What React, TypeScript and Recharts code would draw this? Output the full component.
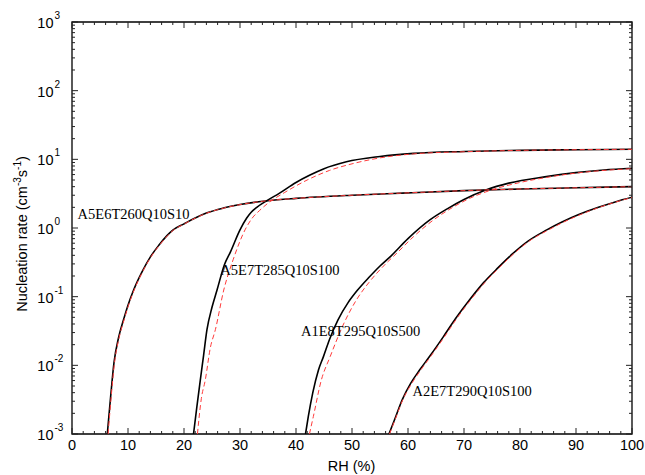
import React from 'react';
import { LineChart, Line, XAxis, YAxis, ReferenceArea, ReferenceDot } from 'recharts';

// curves: [RH %, nucleation rate]
const a5e6t260Solid: [number, number][] = [
  [6.3, 0.001], [6.9, 0.0035], [7.5, 0.011], [8.3, 0.025], [9.2, 0.046], [10.0, 0.075],
  [11.0, 0.125], [12.5, 0.23], [14.0, 0.38], [15.5, 0.56], [17.0, 0.78], [18.0, 0.93],
  [20.0, 1.15], [22.0, 1.4], [24.0, 1.65], [27.0, 1.95], [30.0, 2.2], [35.0, 2.5],
  [40.0, 2.7], [50.0, 3.0], [60.0, 3.25], [70.0, 3.5], [80.0, 3.7], [90.0, 3.85], [100, 4.0],
];
const a5e6t260Dashed: [number, number][] = [
  [6.45, 0.001], [7.0, 0.0035], [7.6, 0.011], [8.4, 0.025], [9.3, 0.046], [10.1, 0.075],
  [11.1, 0.125], [12.6, 0.23], [14.1, 0.38], [15.6, 0.56], [17.1, 0.78], [18.1, 0.93],
  [20.0, 1.14], [22.0, 1.39], [24.0, 1.64], [27.0, 1.94], [30.0, 2.19], [35.0, 2.5],
  [40.0, 2.7], [50.0, 3.0], [60.0, 3.25], [70.0, 3.5], [80.0, 3.7], [90.0, 3.85], [100, 4.0],
];
const a5e7t285Solid: [number, number][] = [
  [21.7, 0.001], [22.3, 0.0025], [22.9, 0.006], [23.5, 0.014], [24.1, 0.033], [25.0, 0.07],
  [25.9, 0.125], [27.2, 0.29], [28.3, 0.45], [30.0, 0.94], [31.2, 1.4], [32.0, 1.7],
  [33.0, 2.0], [34.8, 2.5], [37.0, 3.2], [40.0, 4.6], [42.5, 5.9], [45.0, 7.3], [49.0, 9.2],
  [55.0, 11.0], [61.0, 12.2], [70.0, 13.0], [80.0, 13.5], [90.0, 13.8], [100, 14.0],
];
const a5e7t285Dashed: [number, number][] = [
  [22.4, 0.001], [23.1, 0.0033], [23.8, 0.0061], [24.7, 0.018], [25.6, 0.033], [27.1, 0.125],
  [28.8, 0.35], [30.9, 0.94], [32.2, 1.4], [33.5, 1.8], [35.0, 2.3], [38.0, 3.3], [42.0, 5.0],
  [46.0, 6.9], [50.0, 8.6], [55.0, 10.5], [61.0, 12.0], [70.0, 12.9], [80.0, 13.5], [90.0, 13.8], [100, 14.0],
];
const a1e8t295Solid: [number, number][] = [
  [41.7, 0.001], [42.2, 0.0018], [43.0, 0.004], [44.0, 0.0085], [44.9, 0.0134], [46.0, 0.024],
  [47.5, 0.046], [49.3, 0.082], [51.0, 0.125], [53.0, 0.19], [55.0, 0.28], [56.8, 0.38],
  [60.0, 0.7], [63.9, 1.31], [67.0, 1.9], [70.0, 2.6], [74.0, 3.6], [78.0, 4.5],
  [84.7, 5.6], [90.0, 6.4], [95.0, 7.0], [100, 7.4],
];
const a1e8t295Dashed: [number, number][] = [
  [42.4, 0.001], [43.1, 0.0018], [44.5, 0.006], [46.1, 0.0134], [48.5, 0.04], [50.8, 0.09],
  [53.0, 0.16], [56.0, 0.3], [58.0, 0.43], [61.0, 0.75], [64.5, 1.3], [68.0, 2.0],
  [71.0, 2.7], [75.0, 3.6], [80.0, 4.6], [85.0, 5.5], [90.0, 6.3], [95.0, 6.9], [100, 7.3],
];
const a2e7t290Solid: [number, number][] = [
  [56.6, 0.001], [57.7, 0.0017], [59.0, 0.0032], [60.5, 0.0055], [62.1, 0.0086], [64.0, 0.014],
  [66.3, 0.026], [68.5, 0.048], [71.0, 0.09], [73.5, 0.16], [76.0, 0.26], [78.8, 0.43],
  [81.5, 0.65], [84.7, 0.93], [87.5, 1.22], [90.6, 1.58], [94.0, 2.0], [97.0, 2.4], [100, 2.8],
];
const a2e7t290Dashed: [number, number][] = [
  [56.7, 0.001], [57.8, 0.0017], [59.1, 0.0032], [60.7, 0.0055], [62.3, 0.0086], [64.2, 0.014],
  [66.5, 0.026], [68.7, 0.048], [71.2, 0.09], [73.7, 0.16], [76.2, 0.26], [79.0, 0.43],
  [81.7, 0.65], [84.9, 0.92], [87.7, 1.21], [90.8, 1.57], [94.1, 1.99], [97.1, 2.39], [100, 2.78],
];

const curveNames = ['A5E6T260Q10S10', 'A5E7T285Q10S100', 'A1E8T295Q10S500', 'A2E7T290Q10S100'];
// label anchor (start of text, baseline) in data units
const labelX = [1.0, 26.5, 40.9, 60.8];
const labelY = [1.35, 0.21, 0.0268, 0.00362];

const xTicks = Array.from({ length: 51 }, (_, i) => i * 2);
const decades = [-3, -2, -1, 0, 1, 2];
const yTicks: number[] = [];
decades.forEach(d => {
  for (let m = 1; m < 10; m++) yTicks.push(Number((m * Math.pow(10, d)).toPrecision(3)));
});
yTicks.push(1000);

const PLOT = { left: 72, right: 632, top: 22, bottom: 434 };
const SANS = '"Liberation Sans", Arial, Helvetica, sans-serif';
const SERIF = '"Liberation Serif", "Times New Roman", serif';

const toPts = (pairs: [number, number][]) => pairs.map(([x, y]) => ({ x, y }));

function XTick(props: any) {
  const { x, payload } = props;
  const v = payload.value;
  const major = v % 10 === 0;
  const len = major ? 6 : 3;
  return (
    <g>
      <line x1={x} x2={x} y1={PLOT.bottom} y2={PLOT.bottom - len} stroke="#222" strokeWidth={1} />
      <line x1={x} x2={x} y1={PLOT.top} y2={PLOT.top + len} stroke="#222" strokeWidth={1} />
      {major && (
        <text x={x} y={449.5} textAnchor="middle" fontFamily={SANS} fontSize={14.5} fill="#000">{v}</text>
      )}
    </g>
  );
}

function YTick(props: any) {
  const { y, payload } = props;
  const lg = Math.log10(payload.value);
  const major = Math.abs(lg - Math.round(lg)) < 1e-6;
  const len = major ? 6 : 3;
  return (
    <g>
      <line x1={PLOT.left} x2={PLOT.left + len} y1={y} y2={y} stroke="#222" strokeWidth={1} />
      <line x1={PLOT.right} x2={PLOT.right - len} y1={y} y2={y} stroke="#222" strokeWidth={1} />
      {major && (
        <g fontFamily={SANS} fill="#000">
          <text x={53.5} y={y + 6} textAnchor="end" fontSize={14.5}>10</text>
          <text x={54.5} y={y - 3} fontSize={10}>{Math.round(lg)}</text>
        </g>
      )}
    </g>
  );
}

const curveLabel = (text: string) => (p: any) => (
  <text x={p.viewBox.x} y={p.viewBox.y} fontFamily={SERIF} fontSize={14.5} fill="#000">{text}</text>
);

const solids = [a5e6t260Solid, a5e7t285Solid, a1e8t295Solid, a2e7t290Solid];
const dashes = [a5e6t260Dashed, a5e7t285Dashed, a1e8t295Dashed, a2e7t290Dashed];

export default function App() {
  return (
    <div style={{ position: 'absolute', left: 0, top: 0, width: 645, height: 475, background: '#fff' }}>
      <LineChart width={645} height={475} margin={{ top: 22, right: 13, bottom: 11, left: 12 }}>
        <XAxis
          type="number"
          dataKey="x"
          domain={[0, 100]}
          ticks={xTicks}
          interval={0}
          tick={<XTick />}
          tickLine={false}
          axisLine={false}
          height={30}
          allowDataOverflow
        />
        <YAxis
          type="number"
          dataKey="y"
          scale="log"
          domain={[0.001, 1000]}
          ticks={yTicks}
          interval={0}
          tick={<YTick />}
          tickLine={false}
          axisLine={false}
          width={60}
          allowDataOverflow
        />
        <ReferenceArea x1={0} x2={100} y1={0.001} y2={1000} fill="none" stroke="#000" strokeWidth={1.3} ifOverflow="visible" />
        {solids.map((s, i) => (
          <Line key={'s' + i} data={toPts(s)} dataKey="y" type="monotone" stroke="#000" strokeWidth={1.6} dot={false} isAnimationActive={false} />
        ))}
        {dashes.map((s, i) => (
          <Line key={'d' + i} data={toPts(s)} dataKey="y" type="monotone" stroke="#ff3b3b" strokeWidth={1} strokeDasharray="5 3" dot={false} isAnimationActive={false} />
        ))}
        {curveNames.map((n, i) => (
          <ReferenceDot key={n} x={labelX[i]} y={labelY[i]} r={0} fill="none" stroke="none" ifOverflow="visible" label={curveLabel(n)} />
        ))}
      </LineChart>
      <svg width={645} height={475} style={{ position: 'absolute', left: 0, top: 0, pointerEvents: 'none' }}>
        <text x={351.5} y={470.5} textAnchor="middle" fontFamily={SANS} fontSize={14.5} fill="#000">RH (%)</text>
        <text transform="translate(26.5,234) rotate(-90)" textAnchor="middle" fontFamily={SANS} fontSize={14.5} fill="#000">
          Nucleation rate (cm<tspan fontSize={10} dy={-6}>-3</tspan><tspan dy={6}>s</tspan><tspan fontSize={10} dy={-6}>-1</tspan><tspan dy={6}>)</tspan>
        </text>
      </svg>
    </div>
  );
}
